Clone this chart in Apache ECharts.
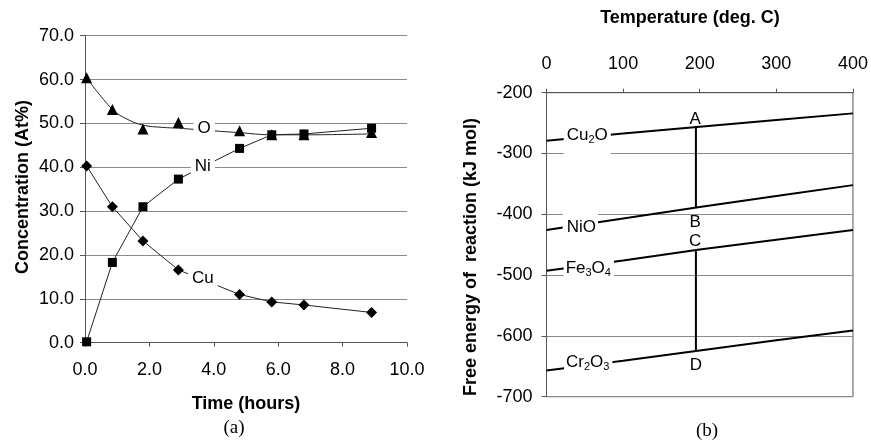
<!DOCTYPE html>
<html>
<head>
<meta charset="utf-8">
<script src="https://cdn.jsdelivr.net/npm/echarts@6/dist/echarts.min.js"></script>
<style>
  html, body { margin: 0; padding: 0; background: #fff; }
  #chart { width: 871px; height: 440px; }
</style>
</head>
<body>
<div id="chart"></div>
<script>
  // (a) concentration vs time
  const timeHours = [0.05, 0.85, 1.8, 2.9, 4.8, 5.8, 6.8, 8.9];
  const oxygenAt = [60.4, 53.2, 48.7, 50.2, 48.3, 47.4, 47.4, 47.9];
  const nickelAt = [0.2, 18.3, 31.0, 37.3, 44.3, 47.4, 47.6, 48.9];
  const copperAt = [40.3, 31.0, 23.2, 16.6, 11.0, 9.3, 8.6, 6.9];
  // trend curve drawn through the O points
  const oTrendTime = [0.05, 0.85, 1.3, 1.8, 2.4, 2.9, 4.0, 4.8, 5.8, 6.8, 8.9];
  const oTrendAt = [60.4, 53.2, 51.0, 49.6, 49.1, 48.9, 48.3, 47.9, 47.4, 47.4, 47.6];

  // (b) free energy vs temperature
  const tempC = [0, 100, 200, 300, 400];
  const cu2oKJ = [-279, -267, -256, -245, -234];
  const nioKJ = [-426, -407, -388, -370, -352];
  const fe3o4KJ = [-493, -476, -458, -442, -426];
  const cr2o3KJ = [-657, -641, -624, -607, -591];
  const tieTemp = 195;
  const tieAB = [-256, -389];
  const tieCD = [-459, -625];

  const FONT = '"Liberation Sans", Arial, sans-serif';
  const GRID_GRAY = '#8a8a8a';
  const AXIS_GRAY = '#555';

  const pairs = (xs, ys) => xs.map((x, i) => [x, ys[i]]);

  const tickLabel = { color: '#000', fontSize: 18, fontFamily: FONT };
  const boxLabel = { color: '#000', fontSize: 17, fontFamily: FONT, backgroundColor: '#fff', padding: [1, 4, 1, 4] };
  const rich = {
    n: { fontSize: 17, fontFamily: FONT, color: '#000', lineHeight: 20 },
    s: { fontSize: 11, fontFamily: FONT, color: '#000', verticalAlign: 'bottom', lineHeight: 11 }
  };

  // markPoint that only carries a text label
  const textMark = (coord, text, extra) => ({
    coord: coord,
    symbol: 'rect',
    symbolSize: 1,
    itemStyle: { color: 'rgba(0,0,0,0)' },
    label: Object.assign({ show: true, position: 'inside', formatter: text }, extra)
  });

  const energyLine = (name, data, mark) => ({
    name: name,
    type: 'line',
    xAxisIndex: 1,
    yAxisIndex: 1,
    data: pairs(tempC, data),
    showSymbol: false,
    lineStyle: { color: '#000', width: 2 },
    z: 2,
    markPoint: { silent: true, data: [mark] }
  });

  const myChart = echarts.init(document.getElementById('chart'));

  const option = {
    animation: false,
    backgroundColor: '#fff',
    grid: [
      { left: 85, right: 464, top: 35.7, bottom: 97.3 },
      { left: 546.5, right: 17, top: 92.7, bottom: 43.3, show: true, borderColor: AXIS_GRAY, borderWidth: 1 }
    ],
    xAxis: [
      {
        type: 'value', gridIndex: 0, min: 0, max: 10, interval: 2,
        axisLine: { show: true, lineStyle: { color: AXIS_GRAY } },
        axisTick: { show: true, length: 4, lineStyle: { color: AXIS_GRAY } },
        axisLabel: Object.assign({ margin: 18, formatter: (v) => v.toFixed(1) }, tickLabel),
        splitLine: { show: false }
      },
      {
        type: 'value', gridIndex: 1, position: 'top', min: 0, max: 400, interval: 100,
        axisLine: { show: true, lineStyle: { color: AXIS_GRAY } },
        axisTick: { show: true, length: 4, lineStyle: { color: AXIS_GRAY } },
        axisLabel: Object.assign({ margin: 20 }, tickLabel),
        splitLine: { show: false }
      }
    ],
    yAxis: [
      {
        type: 'value', gridIndex: 0, min: 0, max: 70, interval: 10,
        axisLine: { show: true, lineStyle: { color: AXIS_GRAY } },
        axisTick: { show: true, length: 5, lineStyle: { color: AXIS_GRAY } },
        axisLabel: Object.assign({ margin: 11, formatter: (v) => v.toFixed(1) }, tickLabel),
        splitLine: { show: true, lineStyle: { color: GRID_GRAY, width: 1 } }
      },
      {
        type: 'value', gridIndex: 1, min: -700, max: -200, interval: 100,
        axisLine: { show: true, lineStyle: { color: AXIS_GRAY } },
        axisTick: { show: true, length: 5, lineStyle: { color: AXIS_GRAY } },
        axisLabel: Object.assign({ margin: 14 }, tickLabel),
        splitLine: { show: true, lineStyle: { color: GRID_GRAY, width: 1 } }
      }
    ],
    series: [
      {
        name: 'O trend', type: 'line', xAxisIndex: 0, yAxisIndex: 0,
        data: pairs(oTrendTime, oTrendAt),
        smooth: 0.4, showSymbol: false,
        lineStyle: { color: '#222', width: 1 }, z: 2,
        markPoint: { silent: true, data: [textMark([3.70, 48.9], 'O', boxLabel)] }
      },
      {
        name: 'O', type: 'scatter', xAxisIndex: 0, yAxisIndex: 0,
        data: pairs(timeHours, oxygenAt),
        symbol: 'triangle', symbolSize: 11,
        itemStyle: { color: '#000', opacity: 1 }, z: 3
      },
      {
        name: 'Ni', type: 'line', xAxisIndex: 0, yAxisIndex: 0,
        data: pairs(timeHours, nickelAt),
        symbol: 'rect', symbolSize: 9, showAllSymbol: true,
        lineStyle: { color: '#222', width: 1 },
        itemStyle: { color: '#000' }, z: 3,
        markPoint: { silent: true, data: [textMark([3.66, 40.3], 'Ni', boxLabel)] }
      },
      {
        name: 'Cu', type: 'line', xAxisIndex: 0, yAxisIndex: 0,
        data: pairs(timeHours, copperAt),
        symbol: 'diamond', symbolSize: 11, showAllSymbol: true,
        lineStyle: { color: '#222', width: 1 },
        itemStyle: { color: '#000' }, z: 3,
        markPoint: { silent: true, data: [textMark([3.66, 14.7], 'Cu', boxLabel)] }
      },
      energyLine('Cu2O', cu2oKJ, textMark([53.2, -278.6], '{n|Cu}{s|2}{n|O}',
        { rich: rich, backgroundColor: '#fff', padding: [1, 3, 11, 3] })),
      energyLine('NiO', nioKJ, textMark([44.2, -418.4], '{n|NiO}',
        { rich: rich, backgroundColor: '#fff', padding: [4, 2, 1, 4] })),
      energyLine('Fe3O4', fe3o4KJ, textMark([55.2, -490], '{n|Fe}{s|3}{n|O}{s|4}',
        { rich: rich, backgroundColor: '#fff', padding: [1, 3, 3, 2] })),
      energyLine('Cr2O3', cr2o3KJ, textMark([54.5, -643.1], '{n|Cr}{s|2}{n|O}{s|3}',
        { rich: rich, backgroundColor: '#fff', padding: [1, 3, 1, 2] })),
      {
        name: 'tie', type: 'line', xAxisIndex: 1, yAxisIndex: 1,
        data: [[tieTemp, tieAB[0]], [tieTemp, tieAB[1]], [tieTemp, '-'], [tieTemp, tieCD[0]], [tieTemp, tieCD[1]]],
        showSymbol: false, connectNulls: false,
        lineStyle: { color: '#000', width: 2 }, z: 2,
        markPoint: {
          silent: true,
          data: [
            textMark([194, -243.3], 'A', { rich: rich, formatter: '{n|A}' }),
            textMark([194, -412.7], 'B', { rich: rich, formatter: '{n|B}' }),
            textMark([194, -444], 'C', { rich: rich, formatter: '{n|C}' }),
            textMark([195, -648], 'D', { rich: rich, formatter: '{n|D}' })
          ]
        }
      }
    ],
    graphic: [
      {
        type: 'text', x: 23, y: 187, rotation: Math.PI / 2,
        style: { text: 'Concentration (At%)', align: 'center', verticalAlign: 'middle', textAlign: 'center', textVerticalAlign: 'middle', font: 'bold 18px ' + FONT, fill: '#000' }
      },
      {
        type: 'text', x: 246, y: 404,
        style: { text: 'Time (hours)', align: 'center', verticalAlign: 'middle', textAlign: 'center', textVerticalAlign: 'middle', font: 'bold 18px ' + FONT, fill: '#000' }
      },
      {
        type: 'text', x: 234, y: 428,
        style: { text: '(a)', align: 'center', verticalAlign: 'middle', textAlign: 'center', textVerticalAlign: 'middle', font: '19px "Liberation Serif", serif', fill: '#000' }
      },
      {
        type: 'text', x: 690, y: 18,
        style: { text: 'Temperature (deg. C)', align: 'center', verticalAlign: 'middle', textAlign: 'center', textVerticalAlign: 'middle', font: 'bold 18px ' + FONT, fill: '#000' }
      },
      {
        type: 'text', x: 471, y: 257, rotation: Math.PI / 2,
        style: { text: 'Free energy of  reaction (kJ mol)', align: 'center', verticalAlign: 'middle', textAlign: 'center', textVerticalAlign: 'middle', font: 'bold 18px ' + FONT, fill: '#000' }
      },
      {
        type: 'text', x: 707, y: 431,
        style: { text: '(b)', align: 'center', verticalAlign: 'middle', textAlign: 'center', textVerticalAlign: 'middle', font: '19px "Liberation Serif", serif', fill: '#000' }
      }
    ]
  };

  myChart.setOption(option);
</script>
</body>
</html>
